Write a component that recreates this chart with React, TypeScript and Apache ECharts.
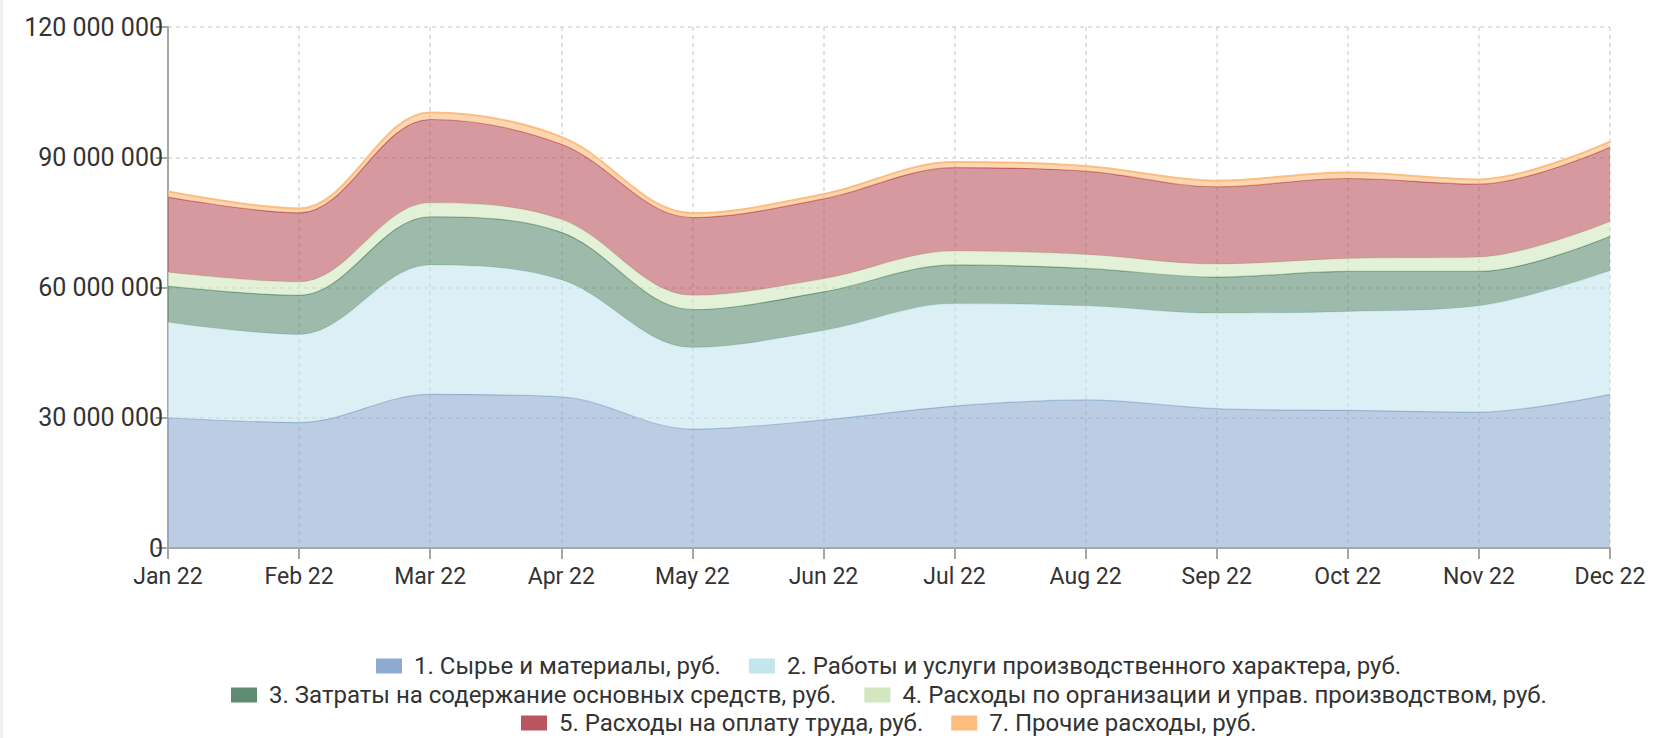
import React, { useEffect, useRef } from "react";
import * as echarts from "echarts";

const months = ["Jan 22", "Feb 22", "Mar 22", "Apr 22", "May 22", "Jun 22", "Jul 22", "Aug 22", "Sep 22", "Oct 22", "Nov 22", "Dec 22"];

const seriesNames = [
  "1. Сырье и материалы, руб.",
  "2. Работы и услуги производственного характера, руб.",
  "3. Затраты на содержание основных средств, руб.",
  "4. Расходы по организации и управ. производством, руб.",
  "5. Расходы на оплату труда, руб.",
  "7. Прочие расходы, руб.",
];

const s1 = [30000000, 28900000, 35400000, 34800000, 27400000, 29500000, 32700000, 34100000, 32100000, 31700000, 31300000, 35400000];
const s2 = [22000000, 20300000, 29800000, 27000000, 18800000, 20600000, 23600000, 21700000, 22000000, 22800000, 24500000, 28500000];
const s3 = [8300000, 9000000, 11100000, 10900000, 8700000, 8900000, 8900000, 8600000, 8300000, 9200000, 7900000, 7900000];
const s4 = [3200000, 3100000, 3200000, 3000000, 3300000, 3000000, 3200000, 3200000, 3000000, 3000000, 3300000, 3400000];
const s5 = [17300000, 15900000, 19200000, 17300000, 17900000, 18400000, 19200000, 19200000, 17800000, 18400000, 16800000, 17100000];
const s7 = [1300000, 1000000, 1600000, 1700000, 1000000, 1100000, 1300000, 1200000, 1400000, 1400000, 1100000, 1300000];

const yTicks = { min: 0, max: 120000000, interval: 30000000 };

const colors = ["#8eaad0", "#c3e5ec", "#5e8c72", "#d1e7bf", "#b9555f", "#fdbd7e"];

const FONT = "Roboto";
const X_FS = 23;
const Y_FS = 25;
const LEG_FS = 24;

function fmt(v: number): string {
  return String(Math.round(v)).replace(/\B(?=(\d{3})+(?!\d))/g, " ");
}

export default function App() {
  const ref = useRef<HTMLDivElement>(null);
  useEffect(() => {
    document.body.style.margin = "0";
    if (!ref.current) return;
    const chart = echarts.init(ref.current, undefined, { renderer: "svg" });
    const data = [s1, s2, s3, s4, s5, s7];

    const canvas = document.createElement("canvas");
    const ctx = canvas.getContext("2d")!;
    ctx.font = `${LEG_FS}px ${FONT}`;
    const itemW = 26;
    const itemH = 15;
    const textPad = 7;
    const itemGap = 28;
    const gridLeft = 168;
    const gridRight = 43;
    const width = 1653;
    const centerX = (gridLeft + (width - gridRight)) / 2;
    const rows = [[0, 1], [2, 3], [4, 5]];
    const rowCenters = [665, 694, 722];
    const legends = rows.map((row, ri) => {
      let w = 0;
      row.forEach((idx, k) => {
        w += itemW + 5 + textPad + ctx.measureText(seriesNames[idx]).width;
        if (k > 0) w += itemGap;
      });
      return {
        show: true,
        orient: "horizontal",
        left: Math.round(centerX - w / 2),
        top: rowCenters[ri] - 11,
        itemWidth: itemW,
        itemHeight: itemH,
        itemGap: itemGap,
        icon: "rect",
        padding: 0,
        data: row.map((i) => seriesNames[i]),
        textStyle: { fontFamily: FONT, fontSize: LEG_FS, lineHeight: 22, color: "#333", padding: [0, 0, 0, textPad] },
      };
    });

    const gridLine = { show: true, lineStyle: { type: [4, 4], width: 1.5, color: "#d9d9d9" } };

    chart.setOption({
      animation: false,
      color: colors,
      grid: { left: gridLeft, right: gridRight, top: 27, bottom: 190, containLabel: false },
      legend: legends,
      xAxis: {
        type: "category",
        boundaryGap: false,
        data: months,
        axisLine: { show: true, lineStyle: { color: "#a6a6a6", width: 2 } },
        axisTick: { show: true, length: 11, lineStyle: { color: "#a6a6a6", width: 2 } },
        axisLabel: { fontFamily: FONT, fontSize: X_FS, lineHeight: 16, color: "#333", margin: 20 },
        splitLine: gridLine,
      },
      yAxis: {
        type: "value",
        min: yTicks.min,
        max: yTicks.max,
        interval: yTicks.interval,
        axisLine: { show: true, lineStyle: { color: "#a6a6a6", width: 2 } },
        axisTick: { show: true, length: 12, lineStyle: { color: "#a6a6a6", width: 2 } },
        axisLabel: { fontFamily: FONT, fontSize: Y_FS, lineHeight: 16, color: "#333", margin: 5, formatter: (v: number) => fmt(v) },
        splitLine: gridLine,
      },
      series: data.map((d, i) => ({
        name: seriesNames[i],
        type: "line",
        stack: "total",
        data: d,
        smooth: 0.35,
        showSymbol: false,
        symbol: "none",
        lineStyle: { width: i === 5 ? 2 : 1.2, color: colors[i] },
        areaStyle: { opacity: 0.6, color: colors[i] },
        itemStyle: { color: colors[i] },
        z: 2 + i,
      })),
    });
    return () => chart.dispose();
  }, []);
  return (
    <div style={{ width: 1653, height: 738, background: "#fff", position: "relative" }}>
      <div style={{ position: "absolute", left: 0, top: 0, width: 3, height: 738, background: "#f1f1f1" }} />
      <div ref={ref} style={{ width: 1653, height: 738 }} />
    </div>
  );
}
